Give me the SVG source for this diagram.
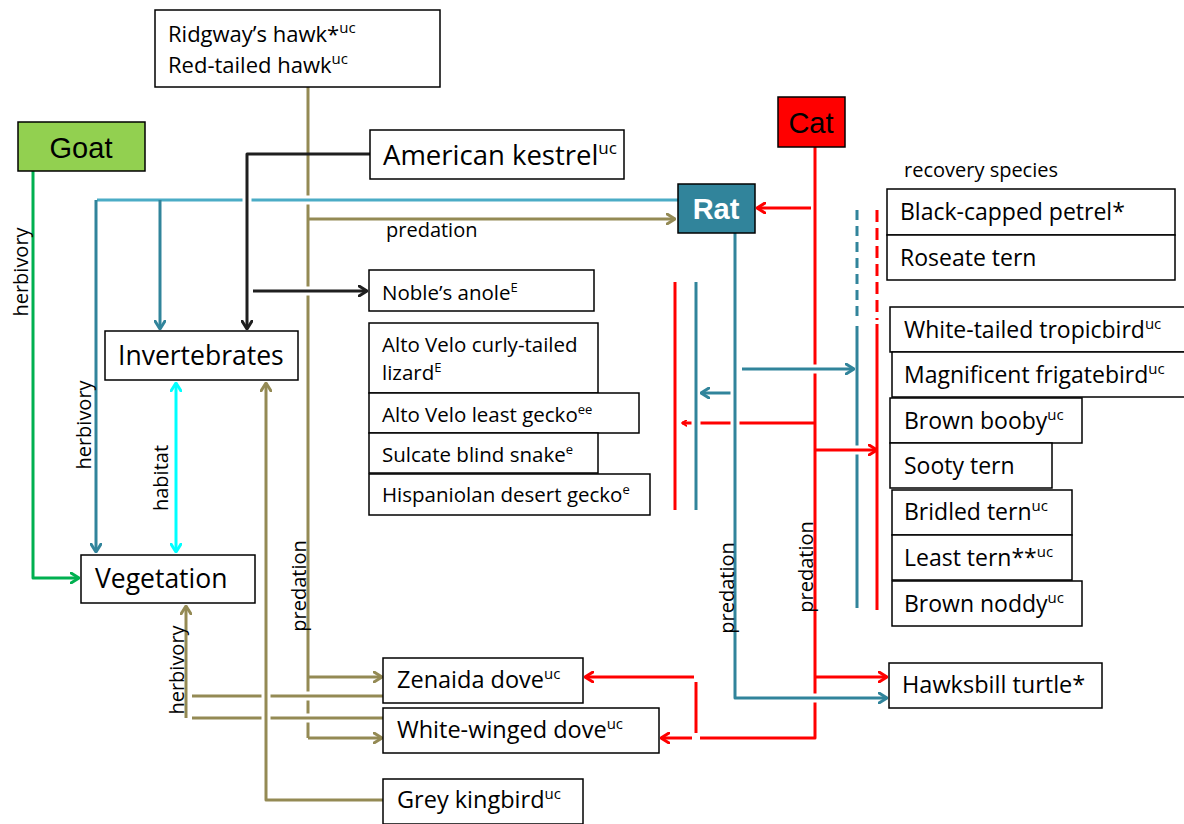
<svg xmlns="http://www.w3.org/2000/svg" width="1184" height="824" viewBox="0 0 1184 824">
<style>
.box{fill:#fff;stroke:#000;stroke-width:1.5}
.t{font-family:"Open Sans","Noto Sans",sans-serif;fill:#000}
.a{font-family:"Liberation Sans",Arial,sans-serif}
.ln{fill:none;stroke-width:3;stroke-linejoin:round}
.halo{fill:none;stroke:#fff;stroke-width:9}
.ol{stroke:#948a54}.bl{stroke:#31849b}.lb{stroke:#4bacc6}.bk{stroke:#1f1f1f}.rd{stroke:#ff0000}.gr{stroke:#00b050}.cy{stroke:#00ffff}
.lab{font-family:"Open Sans","Noto Sans",sans-serif;font-size:20px;fill:#000}
</style>
<defs>
<marker id="mOl" viewBox="0 0 10 12" refX="9" refY="6" markerWidth="10" markerHeight="12" markerUnits="userSpaceOnUse" orient="auto-start-reverse"><path d="M1,1 L9,6 L1,11" fill="none" stroke="#948a54" stroke-width="3" stroke-linecap="round" stroke-linejoin="round"/></marker>
<marker id="mBl" viewBox="0 0 10 12" refX="9" refY="6" markerWidth="10" markerHeight="12" markerUnits="userSpaceOnUse" orient="auto-start-reverse"><path d="M1,1 L9,6 L1,11" fill="none" stroke="#31849b" stroke-width="3" stroke-linecap="round" stroke-linejoin="round"/></marker>
<marker id="mBk" viewBox="0 0 10 12" refX="9" refY="6" markerWidth="10" markerHeight="12" markerUnits="userSpaceOnUse" orient="auto-start-reverse"><path d="M1,1 L9,6 L1,11" fill="none" stroke="#1f1f1f" stroke-width="3" stroke-linecap="round" stroke-linejoin="round"/></marker>
<marker id="mRd" viewBox="0 0 10 12" refX="9" refY="6" markerWidth="10" markerHeight="12" markerUnits="userSpaceOnUse" orient="auto-start-reverse"><path d="M1,1 L9,6 L1,11" fill="none" stroke="#ff0000" stroke-width="3" stroke-linecap="round" stroke-linejoin="round"/></marker>
<marker id="mRs" viewBox="0 0 10 12" refX="9" refY="6" markerWidth="6" markerHeight="7" markerUnits="userSpaceOnUse" orient="auto-start-reverse"><path d="M1,1 L9,6 L1,11" fill="none" stroke="#ff0000" stroke-width="3" stroke-linecap="round" stroke-linejoin="round"/></marker>
<marker id="mGr" viewBox="0 0 10 12" refX="9" refY="6" markerWidth="10" markerHeight="12" markerUnits="userSpaceOnUse" orient="auto-start-reverse"><path d="M1,1 L9,6 L1,11" fill="none" stroke="#00b050" stroke-width="3" stroke-linecap="round" stroke-linejoin="round"/></marker>
<marker id="mCy" viewBox="0 0 10 12" refX="9" refY="6" markerWidth="10" markerHeight="12" markerUnits="userSpaceOnUse" orient="auto-start-reverse"><path d="M1,1 L9,6 L1,11" fill="none" stroke="#00ffff" stroke-width="3" stroke-linecap="round" stroke-linejoin="round"/></marker>
</defs>

<g id="connectors">
  <!-- goat herbivory -->
  <path class="ln gr" d="M33,171 V578 H79" marker-end="url(#mGr)"/>
  <!-- olive main predation line from hawks -->
  <path class="ln ol" d="M308,87 V738"/>
  <path class="ln ol" d="M308,219 H675" marker-end="url(#mOl)"/>
  <path class="ln ol" d="M308,677 H382" marker-end="url(#mOl)"/>
  <path class="ln ol" d="M308,738 H382" marker-end="url(#mOl)"/>
  <!-- blue rat lines left -->
  <path class="halo" d="M97,200 H678"/>
  <path class="ln lb" d="M97,200 H678"/>
  <path class="ln bl" d="M96,200 V552" marker-end="url(#mBl)"/>
  <path class="ln bl" d="M160,200 V329" marker-end="url(#mBl)"/>
  <!-- kestrel black -->
  <path class="halo" d="M247,160 V322"/>
  <path class="ln bk" d="M370,154 H247 V329" marker-end="url(#mBk)"/>
  <path class="halo" d="M253,291 H340"/>
  <path class="ln bk" d="M253,291 H367" marker-end="url(#mBk)"/>
  <!-- habitat -->
  <path class="ln cy" d="M176,383 V552" marker-start="url(#mCy)" marker-end="url(#mCy)"/>
  <!-- herbivory doves -->
  <path class="halo" d="M192,696 H383"/>
  <path class="ln ol" d="M192,696 H383"/>
  <path class="halo" d="M192,718 H383"/>
  <path class="ln ol" d="M192,718 H383"/>
  <path class="ln ol" d="M186,718 V606" marker-end="url(#mOl)"/>
  <!-- grey kingbird -->
  <path class="halo" d="M266,395 V792"/>
  <path class="ln ol" d="M383,800 H266 V383" marker-end="url(#mOl)"/>
  <!-- cat lines -->
  <path class="ln rd" d="M815,147 V738 H700"/>
  <path class="ln rd" d="M811,208 H757" marker-end="url(#mRd)"/>
  <path class="ln rd" d="M815,423 H682" marker-end="url(#mRs)"/>
  <!-- left brackets -->
  <path class="ln rd" d="M675,282 V510"/>
  <path class="halo" d="M696,290 V505"/>
  <path class="ln bl" d="M696,282 V510"/>
  <!-- rat lines -->
  <path class="halo" d="M742,369 H850"/>
  <path class="ln bl" d="M742,369 H854" marker-end="url(#mBl)"/>
  <path class="ln bl" d="M731,393 H701" marker-end="url(#mBl)"/>
  <path class="halo" d="M735,240 V698 H880"/>
  <path class="ln bl" d="M735,233 V698 H887" marker-end="url(#mBl)"/>
  <!-- recovery species brackets -->
  <path class="ln bl" d="M857,210 V322" stroke-dasharray="10 6"/>
  <path class="ln bl" d="M857,326 V608"/>
  <path class="ln rd" d="M877,210 V320" stroke-dasharray="12 6"/>
  <path class="ln rd" d="M877,324 V610"/>
  <path class="halo" d="M820,450 H870"/>
  <path class="ln rd" d="M815,450 H877" marker-end="url(#mRd)"/>
  <path class="ln rd" d="M815,677 H887" marker-end="url(#mRd)"/>
  <!-- cat to doves -->
  <path class="ln rd" d="M696,682 V733"/>
  <path class="ln rd" d="M694,677 H585" marker-end="url(#mRd)"/>
  <path class="ln rd" d="M692,738 H661" marker-end="url(#mRd)"/>
</g>

<g id="labels">
  <text class="lab" transform="translate(28,272) rotate(-90)" text-anchor="middle">herbivory</text>
  <text class="lab" transform="translate(91,425) rotate(-90)" text-anchor="middle">herbivory</text>
  <text class="lab" transform="translate(168,478) rotate(-90)" text-anchor="middle">habitat</text>
  <text class="lab" transform="translate(306,586) rotate(-90)" text-anchor="middle">predation</text>
  <text class="lab" transform="translate(184,670) rotate(-90)" text-anchor="middle">herbivory</text>
  <text class="lab" transform="translate(734,588) rotate(-90)" text-anchor="middle">predation</text>
  <text class="lab" transform="translate(813,567) rotate(-90)" text-anchor="middle">predation</text>
  <text class="lab" x="386" y="237">predation</text>
  <text class="lab" x="904" y="177">recovery species</text>
</g>

<g id="hawks"><rect class="box" x="155" y="10" width="285" height="77"/>
  <text class="t" x="168" y="42" font-size="22">Ridgway’s hawk*<tspan font-size="15" dy="-9">uc</tspan></text>
  <text class="t" x="168" y="73" font-size="22">Red-tailed hawk<tspan font-size="15" dy="-9">uc</tspan></text></g>
<g id="goat"><rect x="18" y="122" width="127" height="49" fill="#92d050" stroke="#000" stroke-width="1.5"/>
  <text class="a" x="81" y="158" font-size="29" text-anchor="middle">Goat</text></g>
<g id="kestrel"><rect class="box" x="370" y="130" width="254" height="49"/>
  <text class="t" x="383" y="165" font-size="27.5">American kestrel<tspan font-size="17" dy="-11">uc</tspan></text></g>
<g id="cat"><rect x="778" y="97" width="67" height="50" fill="#ff0000" stroke="#000" stroke-width="1.5"/>
  <text class="a" x="811" y="133" font-size="29" text-anchor="middle">Cat</text></g>
<g id="rat"><rect x="678" y="184" width="77" height="49" fill="#31849b" stroke="#000" stroke-width="1.5"/>
  <text class="a" x="716" y="219" font-size="29" font-weight="bold" fill="#fff" text-anchor="middle">Rat</text></g>
<g id="invertebrates"><rect class="box" x="105" y="331" width="193" height="49"/>
  <text class="t" x="118" y="365" font-size="26.5">Invertebrates</text></g>
<g id="vegetation"><rect class="box" x="81" y="555" width="174" height="48"/>
  <text class="t" x="95" y="588" font-size="26.5">Vegetation</text></g>
<g id="noble"><rect class="box" x="369" y="270" width="225" height="41"/>
  <text class="t" x="382" y="300" font-size="20.5">Noble’s anole<tspan font-size="13" dy="-8">E</tspan></text></g>
<g id="curly"><rect class="box" x="369" y="323" width="229" height="70"/>
  <text class="t" x="382" y="352" font-size="20.5">Alto Velo curly-tailed</text>
  <text class="t" x="382" y="380" font-size="20.5">lizard<tspan font-size="13" dy="-8">E</tspan></text></g>
<g id="leastgecko"><rect class="box" x="369" y="393" width="270" height="40"/>
  <text class="t" x="382" y="422" font-size="20.5">Alto Velo least gecko<tspan font-size="13" dy="-8">ee</tspan></text></g>
<g id="snake"><rect class="box" x="369" y="433" width="229" height="40"/>
  <text class="t" x="382" y="462" font-size="20.5">Sulcate blind snake<tspan font-size="13" dy="-8">e</tspan></text></g>
<g id="desertgecko"><rect class="box" x="369" y="474" width="281" height="41"/>
  <text class="t" x="382" y="502" font-size="20.5">Hispaniolan desert gecko<tspan font-size="13" dy="-8">e</tspan></text></g>
<g id="petrel"><rect class="box" x="887" y="189" width="288" height="46"/>
  <text class="t" x="900" y="220" font-size="23">Black-capped petrel*</text></g>
<g id="roseate"><rect class="box" x="887" y="235" width="288" height="45"/>
  <text class="t" x="900" y="266" font-size="23">Roseate tern</text></g>
<g id="tropicbird"><rect class="box" x="890" y="307" width="300" height="45"/>
  <text class="t" x="904" y="338" font-size="23">White-tailed tropicbird<tspan font-size="15" dy="-9">uc</tspan></text></g>
<g id="frigatebird"><rect class="box" x="892" y="352" width="300" height="45"/>
  <text class="t" x="904" y="383" font-size="23">Magnificent frigatebird<tspan font-size="15" dy="-9">uc</tspan></text></g>
<g id="booby"><rect class="box" x="890" y="398" width="192" height="45"/>
  <text class="t" x="904" y="429" font-size="23">Brown booby<tspan font-size="15" dy="-9">uc</tspan></text></g>
<g id="sooty"><rect class="box" x="890" y="443" width="162" height="45"/>
  <text class="t" x="904" y="474" font-size="23">Sooty tern</text></g>
<g id="bridled"><rect class="box" x="892" y="490" width="180" height="45"/>
  <text class="t" x="904" y="520" font-size="23">Bridled tern<tspan font-size="15" dy="-9">uc</tspan></text></g>
<g id="leasttern"><rect class="box" x="892" y="535" width="180" height="45"/>
  <text class="t" x="904" y="566" font-size="23">Least tern**<tspan font-size="15" dy="-9">uc</tspan></text></g>
<g id="noddy"><rect class="box" x="892" y="581" width="190" height="45"/>
  <text class="t" x="904" y="612" font-size="23">Brown noddy<tspan font-size="15" dy="-9">uc</tspan></text></g>
<g id="hawksbill"><rect class="box" x="889" y="663" width="213" height="45"/>
  <text class="t" x="902" y="693" font-size="23.5">Hawksbill turtle*</text></g>
<g id="zenaida"><rect class="box" x="383" y="658" width="200" height="45"/>
  <text class="t" x="397" y="688" font-size="23.5">Zenaida dove<tspan font-size="15" dy="-9">uc</tspan></text></g>
<g id="whitewinged"><rect class="box" x="383" y="708" width="276" height="45"/>
  <text class="t" x="397" y="738" font-size="23.5">White-winged dove<tspan font-size="15" dy="-9">uc</tspan></text></g>
<g id="kingbird"><rect class="box" x="383" y="779" width="200" height="45"/>
  <text class="t" x="397" y="808" font-size="23.5">Grey kingbird<tspan font-size="15" dy="-9">uc</tspan></text></g>
</svg>
